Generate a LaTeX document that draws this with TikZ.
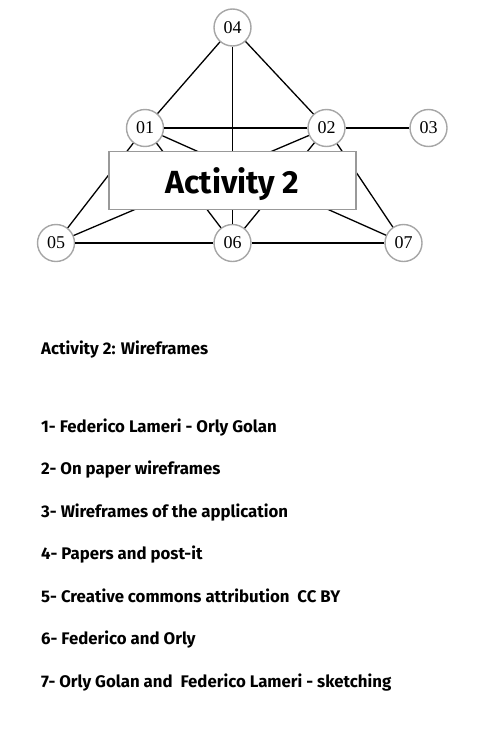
\documentclass[tikz,border=0pt]{standalone}
\usepackage{fontspec}
\setmainfont{Fira Sans}
\newfontfamily\numfont{Liberation Serif}
\usepackage{tikz}
\usetikzlibrary{shapes,backgrounds}
\definecolor{ringgray}{HTML}{A6A6A6}
\definecolor{boxgray}{HTML}{999999}
\tikzset{
  circN/.style={ draw=ringgray, line width=1.4pt, circle, fill=white, minimum size=37pt, inner sep=0pt, font=\numfont\fontsize{18}{18}\selectfont }
}
\tikzset{
  titlebox/.style={ draw=boxgray, line width=1.4pt, fill=white, minimum width=247pt, minimum height=58pt, text depth=0pt, font=\bfseries\fontsize{32}{32}\selectfont }
}
\tikzset{
  infotext/.style={ anchor=base west, inner sep=0pt, font=\bfseries\fontsize{16.8}{16.8}\selectfont }
}

\begin{document}
\begin{tikzpicture}[x=1pt, y=-1pt]
      \useasboundingbox (0, 0) rectangle (501, 739);

      \node[circN] (N4) at (232.5, 27.5) {04};
      \node[circN] (N1) at (145, 128) {01};
      \node[circN] (N2) at (326.5, 128) {02};
      \node[circN] (N3) at (428.5, 128) {03};
      \node[circN] (N5) at (56, 243) {05};
      \node[circN] (N6) at (232.5, 243) {06};
      \node[circN] (N7) at (403.5, 243) {07};

      \begin{scope}[line width=1.3pt]
        \draw (N4) edge (N1);
        \draw (N4) edge (N2);
        \draw (N4) edge (N6);

        \draw (N1) edge (N2);
        \draw (N2) edge (N3);

        \draw (N1) edge (N5);
        \draw (N1) edge (N6);
        \draw (N1) edge (N7);

        \draw (N2) edge (N5);
        \draw (N2) edge (N6);
        \draw (N2) edge (N7);

        \draw (N5) edge (N6);
        \draw (N6) edge (N7);
      \end{scope}

      \node[titlebox] (title) at (232.5, 180.5) {Activity 2};

      \node[infotext] (head) at (41, 354) {Activity 2: Wireframes};

      \node[infotext] (item1) at (41, 432) {1- Federico Lameri - Orly Golan};
      \node[infotext] (item2) at (41, 474.5) {2- On paper wireframes};
      \node[infotext] (item3) at (41, 517) {3- Wireframes of the application};
      \node[infotext] (item4) at (41, 559.5) {4- Papers and post-it};
      \node[infotext] (item5) at (41, 602) {5- Creative commons attribution\ \ CC BY};
      \node[infotext] (item6) at (41, 644.5) {6- Federico and Orly};
      \node[infotext] (item7) at (41, 687) {7- Orly Golan and\ \ Federico Lameri - sketching};
    \end{tikzpicture}
\end{document}
